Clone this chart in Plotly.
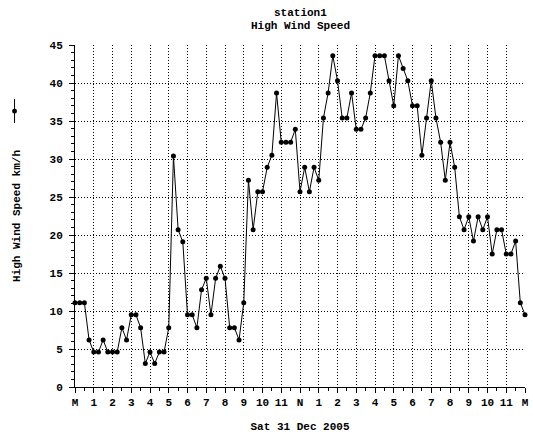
import numpy as np
import plotly.graph_objects as go

# High wind speed readings (km/h), one every 15 minutes from midnight to midnight
interval_hours = 0.25
wind_speed = [
    11.1, 11.1, 11.1, 6.2, 4.6, 4.6, 6.2, 4.6, 4.6, 4.6, 7.8, 6.2,
    9.5, 9.5, 7.8, 3.1, 4.6, 3.1, 4.6, 4.6, 7.8, 30.4, 20.7, 19.1,
    9.5, 9.5, 7.8, 12.8, 14.3, 9.5, 14.3, 15.9, 14.3, 7.8, 7.8, 6.2,
    11.1, 27.2, 20.7, 25.7, 25.7, 28.9, 30.5, 38.7, 32.2, 32.2, 32.2, 33.9,
    25.7, 28.9, 25.7, 28.9, 27.2, 35.4, 38.7, 43.6, 40.3, 35.4, 35.4, 38.7,
    33.9, 33.9, 35.4, 38.7, 43.6, 43.6, 43.6, 40.3, 37.0, 43.6, 41.9, 40.3,
    37.0, 37.0, 30.5, 35.4, 40.3, 35.4, 32.2, 27.2, 32.2, 28.9, 22.4, 20.7,
    22.4, 19.2, 22.4, 20.7, 22.4, 17.5, 20.7, 20.7, 17.5, 17.5, 19.2, 11.1,
    9.5,
]
hours = np.arange(len(wind_speed)) * interval_hours

hour_ticks = list(range(25))
hour_labels = ["M", "1", "2", "3", "4", "5", "6", "7", "8", "9", "10", "11",
               "N", "1", "2", "3", "4", "5", "6", "7", "8", "9", "10", "11", "M"]
speed_ticks = [0, 5, 10, 15, 20, 25, 30, 35, 40, 45]

FONT = "Liberation Mono"
ink = "black"

# plot-area size in pixels, used to place the series key in paper units
W, H = 533, 436
ML, MR, MT, MB = 75, 4, 45, 49
pw, ph = W - ML - MR, H - MT - MB


def px_x(x):
    return (x - ML) / pw


def px_y(y):
    return (H - MB - y) / ph


fig = go.Figure()
fig.add_trace(go.Scatter(
    x=hours, y=wind_speed, mode="lines+markers",
    line=dict(color=ink, width=1),
    marker=dict(color=ink, size=5, symbol="circle"),
    showlegend=False, cliponaxis=False,
))

key_x, key_y = 14, 111
fig.update_layout(
    width=W, height=H,
    margin=dict(l=ML, r=MR, t=MT, b=MB),
    paper_bgcolor="white", plot_bgcolor="white",
    font=dict(family=FONT, size=11, color=ink, weight="bold"),
    xaxis=dict(
        range=[0, 24], tickvals=hour_ticks, ticktext=hour_labels,
        showline=True, linecolor=ink, linewidth=1,
        ticks="outside", ticklen=5, tickcolor=ink, tickwidth=1,
        minor=dict(dtick=0.5, ticks="outside", ticklen=3, tickcolor=ink, showgrid=False),
        showgrid=True, gridcolor=ink, gridwidth=1, griddash="1px,2px",
        zeroline=False, tickangle=0, ticklabeloverflow="allow",
        title=dict(text="Sat 31 Dec 2005", standoff=14, font=dict(size=11)),
    ),
    yaxis=dict(
        range=[0, 45], tickvals=speed_ticks,
        showline=True, linecolor=ink, linewidth=1,
        ticks="outside", ticklen=5, tickcolor=ink, tickwidth=1,
        minor=dict(dtick=1, ticks="outside", ticklen=3, tickcolor=ink, showgrid=False),
        showgrid=True, gridcolor=ink, gridwidth=1, griddash="1px,2px",
        zeroline=False, ticklabelstandoff=4,
        title=dict(text="High Wind Speed km/h", standoff=26, font=dict(size=11)),
    ),
    annotations=[
        dict(text="station1", xref="paper", yref="paper", x=0.5, y=1,
             yanchor="middle", yshift=32, showarrow=False, font=dict(size=11)),
        dict(text="High Wind Speed", xref="paper", yref="paper", x=0.5, y=1,
             yanchor="middle", yshift=19, showarrow=False, font=dict(size=11)),
    ],
    shapes=[
        # series key drawn beside the rotated axis title
        dict(type="line", xref="paper", yref="paper",
             x0=px_x(key_x), x1=px_x(key_x), y0=px_y(key_y - 12), y1=px_y(key_y + 12),
             line=dict(color=ink, width=1)),
        dict(type="circle", xref="paper", yref="paper",
             x0=px_x(key_x - 2.5), x1=px_x(key_x + 2.5),
             y0=px_y(key_y + 2.5), y1=px_y(key_y - 2.5),
             fillcolor=ink, line=dict(color=ink, width=0)),
    ],
)

fig.write_html("out.html")
